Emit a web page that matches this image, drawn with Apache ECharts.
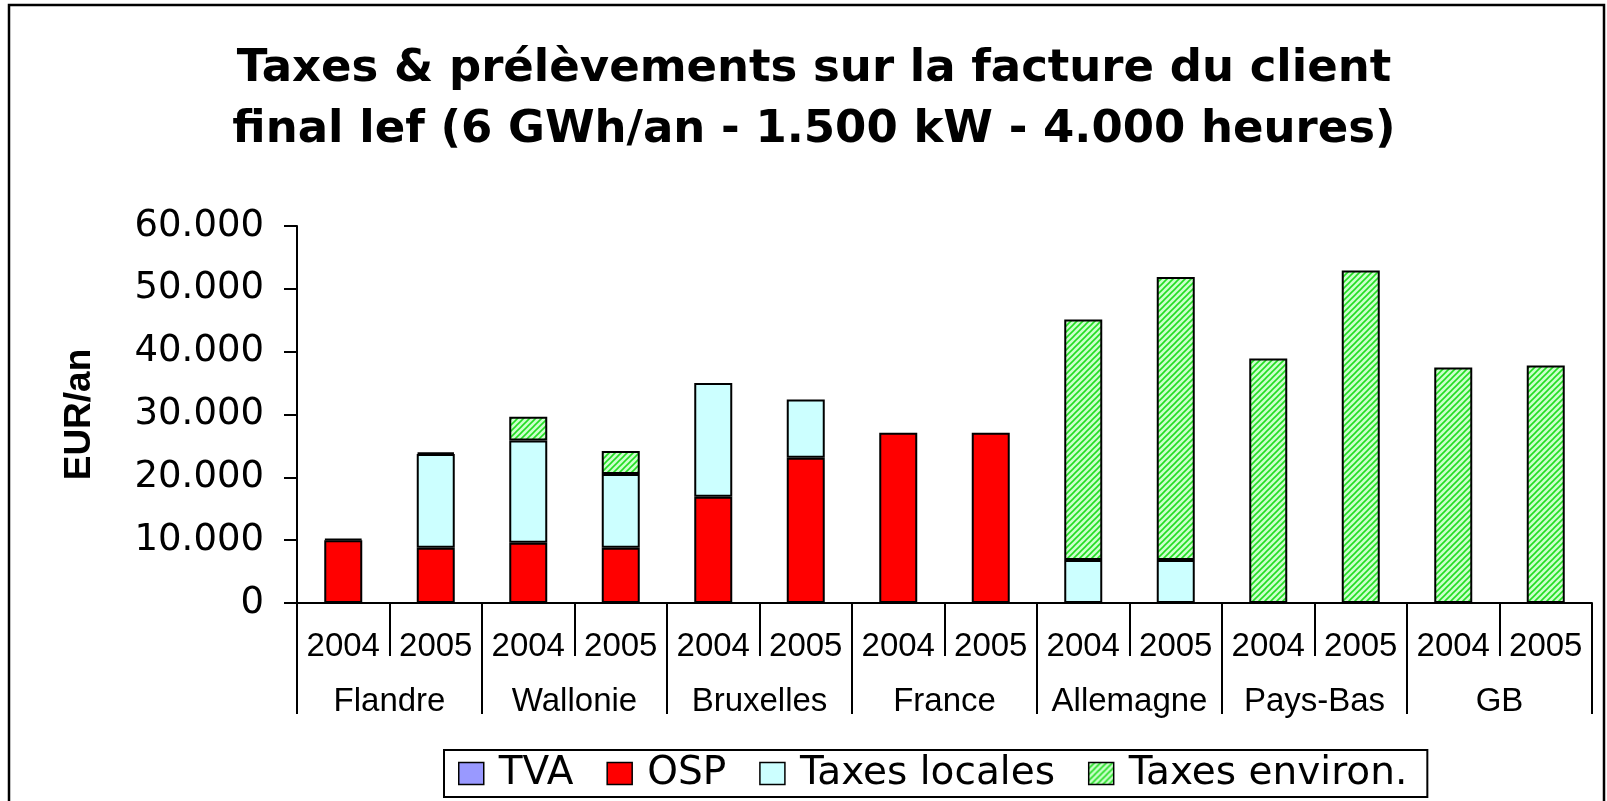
<!DOCTYPE html>
<html>
<head>
<meta charset="utf-8">
<script src="https://cdn.jsdelivr.net/npm/echarts@6/dist/echarts.min.js"></script>
<style>
html,body{margin:0;padding:0;background:#fff;}
#chart{width:1607px;height:801px;}
</style>
</head>
<body>
<div id="chart"></div>
<script>
// ---- data ----
const years = ['2004','2005','2004','2005','2004','2005','2004','2005','2004','2005','2004','2005','2004','2005'];
const regions = ['Flandre','Wallonie','Bruxelles','France','Allemagne','Pays-Bas','GB'];
const seriesNames = ['TVA','OSP','Taxes locales','Taxes environ.'];
const tvaValues = [200, 250, null, null, null, null, null, null, null, null, null, null, null, null];
const ospValues = [10000, 8800, 9600, 8800, 16900, 23100, 27100, 27100, null, null, null, null, null, null];
const localValues = [null, 14900, 16250, 11750, 18100, 9300, null, null, 6850, 6850, null, null, null, null];
const envValues = [null, null, 3800, 3650, null, null, null, null, 38250, 45050, 38900, 52900, 37500, 37800];
const yTickLabels = ['0','10.000','20.000','30.000','40.000','50.000','60.000'];
const titleText = 'Taxes & prélèvements sur la facture du client\nfinal lef (6 GWh/an - 1.500 kW - 4.000 heures)';
const yAxisName = 'EUR/an';

// hatch pattern for "Taxes environ."
function hatch() {
  const c = document.createElement('canvas');
  c.width = 6; c.height = 6;
  const g = c.getContext('2d');
  g.fillStyle = '#ccffcc';
  g.fillRect(0, 0, 6, 6);
  g.strokeStyle = '#22dd22';
  g.lineWidth = 1.6;
  g.beginPath();
  g.moveTo(-1, 7); g.lineTo(7, -1);
  g.moveTo(-4, 4); g.lineTo(4, -4);
  g.moveTo(2, 10); g.lineTo(10, 2);
  g.stroke();
  return c;
}
const envPattern = { image: hatch(), repeat: 'repeat' };

const chart = echarts.init(document.getElementById('chart'), null, { renderer: 'canvas' });
const border = { borderColor: '#000', borderWidth: 2 };
const barW = 38;

chart.setOption({
  animation: false,
  backgroundColor: '#fff',
  title: {
    text: titleText,
    left: 814,
    textAlign: 'center',
    top: 39,
    padding: 0,
    textStyle: { fontFamily: 'DejaVu Sans', fontWeight: 'bold', fontSize: 45, lineHeight: 61, color: '#000' }
  },
  graphic: [{
    type: 'rect', silent: true, z: -1,
    shape: { x: 9, y: 5, width: 1595, height: 830 },
    style: { fill: 'none', stroke: '#000', lineWidth: 2.5 }
  }],
  legend: {
    data: seriesNames,
    icon: 'rect',
    left: 444, top: 750,
    orient: 'horizontal',
    padding: [4, 20, 4, 14],
    borderColor: '#000', borderWidth: 2,
    itemWidth: 25, itemHeight: 22, itemGap: 33,
    selectedMode: false,
    textStyle: { fontFamily: 'DejaVu Sans', fontSize: 39, color: '#000', padding: [0, 0, 0, 10] },
    itemStyle: { borderColor: '#000', borderWidth: 1.5 }
  },
  grid: { left: 297, right: 15, top: 226, bottom: 198 },
  xAxis: [{
    type: 'category', data: years, position: 'bottom', offset: 0,
    axisLine: { show: true, lineStyle: { color: '#000', width: 2 } },
    axisTick: { show: true, interval: 0, length: 53, lineStyle: { color: '#000', width: 2 } },
    axisLabel: { interval: 0, margin: 27, fontFamily: 'Liberation Sans', fontSize: 33, color: '#000' }
  }, {
    type: 'category', data: regions, position: 'bottom', offset: 0,
    axisLine: { show: false },
    axisTick: { show: true, interval: 0, length: 111, lineStyle: { color: '#000', width: 2 } },
    axisLabel: { interval: 0, margin: 82, fontFamily: 'Liberation Sans', fontSize: 33, color: '#000' }
  }],
  yAxis: {
    type: 'value', min: 0, max: 60000, interval: 10000,
    name: yAxisName, nameLocation: 'middle', nameGap: 199, nameRotate: 90,
    nameTextStyle: { fontFamily: 'Liberation Sans', fontWeight: 'bold', fontSize: 37, color: '#000' },
    axisLine: { show: true, lineStyle: { color: '#000', width: 2 } },
    axisTick: { show: true, inside: false, length: 13, lineStyle: { color: '#000', width: 2 } },
    splitLine: { show: false },
    axisLabel: {
      margin: 33, fontFamily: 'DejaVu Sans', fontSize: 37, color: '#000',
      formatter: function (v) { return yTickLabels[Math.round(v / 10000)]; }
    }
  },
  series: [
    { name: 'OSP', type: 'bar', stack: 'total', barWidth: barW, data: ospValues,
      itemStyle: Object.assign({ color: '#ff0000' }, border) },
    { name: 'Taxes locales', type: 'bar', stack: 'total', barWidth: barW, data: localValues,
      itemStyle: Object.assign({ color: '#ccffff' }, border) },
    { name: 'Taxes environ.', type: 'bar', stack: 'total', barWidth: barW, data: envValues,
      itemStyle: Object.assign({ color: envPattern }, border) },
    { name: 'TVA', type: 'bar', stack: 'total', barWidth: barW, data: tvaValues,
      itemStyle: Object.assign({ color: '#9999ff' }, border) }
  ]
});
</script>
</body>
</html>
